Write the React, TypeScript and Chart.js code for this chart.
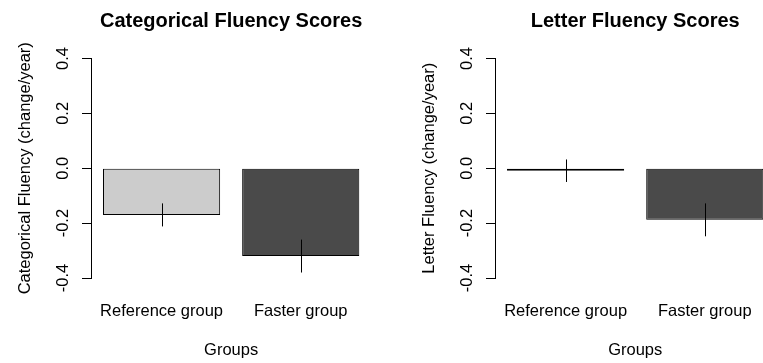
import React, { useEffect, useRef } from "react";
import { Chart, registerables } from "chart.js";

Chart.register(...registerables);

const groups = ["Reference group", "Faster group"];
const categoricalMeans = [-0.17, -0.32];
const categoricalSE = [0.042, 0.06];
const letterMeans = [-0.009, -0.188];
const letterSE = [0.041, 0.06];
const yTickValues = [-0.4, -0.2, 0.0, 0.2, 0.4];
const yTickLabels = ["-0.4", "-0.2", "0.0", "0.2", "0.4"];
const barColors = ["#CCCCCC", "#4A4A4A"];

const FONT = "'Liberation Sans', Arial, Helvetica, sans-serif";

type PanelProps = {
  title: string;
  yTitle: string;
  xTitle: string;
  means: number[];
  se: number[];
  canvasWidth: number;
  padLeft: number;
  padRight: number;
  left: number;
};

function Panel(props: PanelProps) {
  const ref = useRef<HTMLCanvasElement | null>(null);
  useEffect(() => {
    if (!ref.current) return;
    const { title, yTitle, xTitle, means, se } = props;
    const decorations = {
      id: "rdecor",
      afterDatasetsDraw(chart: any) {
        const ctx = chart.ctx;
        const ys = chart.scales.y;
        const meta = chart.getDatasetMeta(0);
        ctx.save();
        ctx.strokeStyle = "#000";
        ctx.lineWidth = 1;
        meta.data.forEach((bar: any, i: number) => {
          const x = Math.round(bar.x) + 0.5;
          ctx.beginPath();
          ctx.moveTo(x, ys.getPixelForValue(means[i] + se[i]));
          ctx.lineTo(x, ys.getPixelForValue(means[i] - se[i]));
          ctx.stroke();
        });
        ctx.restore();
      },
      afterDraw(chart: any) {
        const ctx = chart.ctx;
        const ys = chart.scales.y;
        const area = chart.chartArea;
        const meta = chart.getDatasetMeta(0);
        ctx.save();
        ctx.strokeStyle = "#000";
        ctx.lineWidth = 1;
        const ax = Math.round(area.left) - 0.5;
        ctx.beginPath();
        ctx.moveTo(ax, ys.getPixelForValue(yTickValues[0]));
        ctx.lineTo(ax, ys.getPixelForValue(yTickValues[yTickValues.length - 1]));
        ctx.stroke();
        ctx.fillStyle = "#000";
        ctx.font = `16.5px ${FONT}`;
        ctx.textAlign = "center";
        ctx.textBaseline = "alphabetic";
        yTickValues.forEach((v, i) => {
          const y = ys.getPixelForValue(v);
          ctx.save();
          ctx.translate(area.left - 24.4, y);
          ctx.rotate(-Math.PI / 2);
          ctx.fillText(yTickLabels[i], 0, 0);
          ctx.restore();
        });
        ctx.save();
        ctx.translate(area.left - 62.5, (area.top + area.bottom) / 2);
        ctx.rotate(-Math.PI / 2);
        ctx.fillText(yTitle, 0, 0);
        ctx.restore();
        meta.data.forEach((bar: any, i: number) => {
          ctx.fillText(groups[i], bar.x, 316);
        });
        const cx = (area.left + area.right) / 2;
        ctx.fillText(xTitle, cx, 355);
        ctx.font = `bold 20px ${FONT}`;
        ctx.fillText(title, cx, 26.5);
        ctx.restore();
      },
    };
    const chart = new Chart(ref.current, {
      type: "bar",
      data: {
        labels: groups,
        datasets: [
          {
            data: means,
            backgroundColor: barColors,
            borderColor: "#000000",
            borderWidth: 1,
            borderSkipped: false,
            categoryPercentage: 1,
            barPercentage: 0.8418,
          },
        ],
      },
      options: {
        animation: false,
        responsive: false,
        devicePixelRatio: 1,
        layout: {
          padding: { left: 0, right: props.padRight, top: 49.7, bottom: 76.2 },
        },
        plugins: {
          legend: { display: false },
          tooltip: { enabled: false },
          title: { display: false },
        },
        scales: {
          x: { type: "category", display: false, offset: true },
          y: {
            type: "linear",
            min: -0.432,
            max: 0.432,
            afterFit: (scale: any) => {
              scale.width = props.padLeft;
            },
            afterBuildTicks: (scale: any) => {
              scale.ticks = yTickValues.map((v) => ({ value: v }));
            },
            ticks: { display: false },
            border: { display: false },
            grid: {
              drawOnChartArea: false,
              drawTicks: true,
              tickLength: 10,
              color: "#000",
              lineWidth: 1,
            },
          },
        },
      },
      plugins: [decorations],
    });
    return () => chart.destroy();
  }, []);
  return (
    <canvas
      ref={ref}
      width={props.canvasWidth}
      height={363}
      style={{
        position: "absolute",
        left: props.left,
        top: 0,
        width: props.canvasWidth,
        height: 363,
      }}
    />
  );
}

export default function App() {
  return (
    <div
      style={{
        position: "absolute",
        left: 0,
        top: 0,
        width: 763,
        height: 363,
        overflow: "hidden",
        background: "#fff",
      }}
    >
      <Panel
        title="Categorical Fluency Scores"
        yTitle="Categorical Fluency (change/year)"
        xTitle="Groups"
        means={categoricalMeans}
        se={categoricalSE}
        canvasWidth={381}
        padLeft={92}
        padRight={10.7}
        left={0}
      />
      <Panel
        title="Letter Fluency Scores"
        yTitle="Letter Fluency (change/year)"
        xTitle="Groups"
        means={letterMeans}
        se={letterSE}
        canvasWidth={400}
        padLeft={115}
        padRight={6.6}
        left={381}
      />
    </div>
  );
}
